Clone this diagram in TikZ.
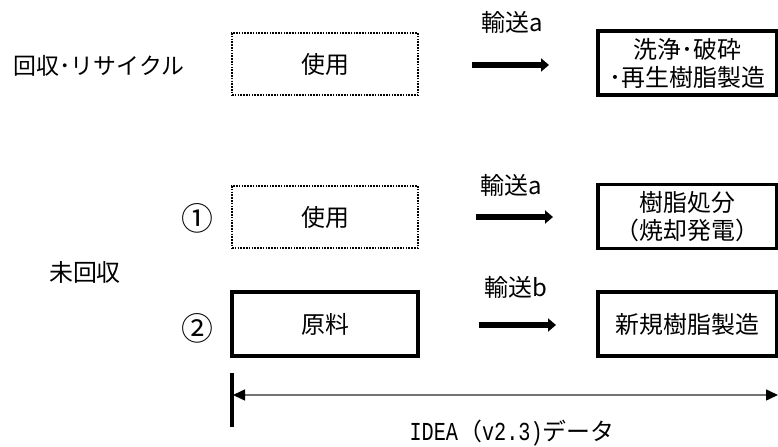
\documentclass[tikz,border=0pt]{standalone}
\usepackage{fontspec}
\setmainfont{Noto Sans CJK JP}
\newfontfamily\monofnt[FakeStretch=0.78]{Liberation Mono}
\usetikzlibrary{arrows.meta}
\begin{document}
\begin{tikzpicture}[x=1bp,y=-1bp,
  font=\fontsize{24}{28}\selectfont,
  usebox/.style={draw, dash pattern=on 1.6bp off 1.2bp, line width=1.3bp,
    minimum width=186bp, minimum height=62bp, inner sep=0pt, align=center},
  leftbox/.style={draw, line width=3.5bp, minimum width=186bp, minimum height=64bp,
    inner sep=0pt, align=center},
  rightbox/.style={draw, line width=3.5bp, minimum width=179bp, minimum height=64bp,
    inner sep=0pt, align=center},
  fat/.style={line width=5.5bp, -{Triangle[length=8bp,width=13bp]}},
  lbl/.style={inner sep=0pt, align=center},
  circ/.style={inner sep=0pt, font=\fontsize{32}{34}\selectfont}
]
\useasboundingbox (0,0) rectangle (778,447);
\clip (0,0) rectangle (778,447);
% top row
\node[lbl, font=\fontsize{23}{28}\selectfont] (rec) at (99,66) {回収･リサイクル};
\node[usebox] (u1) at (325,64) {使用};
\node[rightbox] (r1) at (687.5,63) {洗浄･破砕\\･再生樹脂製造};
\coordinate (a1s) at (472,65);
\coordinate (a1e) at (549,65);
\draw[fat] (a1s) -- (a1e);
\node[lbl] (t1) at (512,22) {輸送a};
% unrecovered
\node[lbl] (unrec) at (85,272) {未回収};
\node[circ] (n1) at (197,218) {①};
\node[usebox] (u2) at (325,217) {使用};
\node[rightbox] (r2) at (687.5,216.5) {樹脂処分\\（焼却発電）};
\coordinate (a2s) at (476,217);
\coordinate (a2e) at (553,217);
\draw[fat] (a2s) -- (a2e);
\node[lbl] (t2) at (511,185) {輸送a};
\node[circ] (n2) at (197,328) {②};
\node[leftbox] (g) at (325,324) {原料};
\node[rightbox] (r3) at (687.5,324) {新規樹脂製造};
\coordinate (a3s) at (479,325);
\coordinate (a3e) at (556,325);
\draw[fat] (a3s) -- (a3e);
\node[lbl] (t3) at (516,287) {輸送b};
% IDEA range
\coordinate (bT) at (232,373);
\coordinate (bB) at (232,427);
\draw[line width=4bp] (bT) -- (bB);
\coordinate (dL) at (233,395);
\coordinate (dR) at (778,395);
\draw[line width=1.5bp, draw=black!55,
  {Triangle[length=12bp,width=11bp,color=black]}-{Triangle[length=12bp,width=11bp,color=black]}]
  (dL) -- (dR);
\node[lbl] (idea) at (512,433) {{\monofnt\fontsize{26}{28}\selectfont IDEA}（{\monofnt\fontsize{26}{28}\selectfont v2.3)}データ};
\end{tikzpicture}
\end{document}
